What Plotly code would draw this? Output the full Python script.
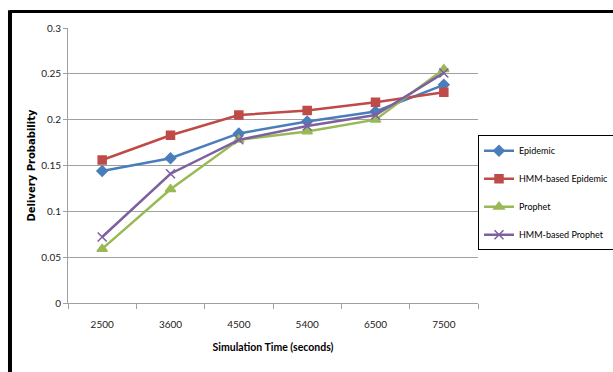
import plotly.graph_objects as go

categories = ["2500", "3600", "4500", "5400", "6500", "7500"]
epidemic = [0.144, 0.158, 0.185, 0.198, 0.209, 0.238]
hmm_epidemic = [0.156, 0.183, 0.205, 0.210, 0.219, 0.230]
prophet = [0.059, 0.124, 0.178, 0.187, 0.200, 0.255]
hmm_prophet = [0.072, 0.141, 0.178, 0.193, 0.205, 0.251]
y_ticks = [0, 0.05, 0.1, 0.15, 0.2, 0.25, 0.3]
y_labels = ["0", "0.05", "0.1", "0.15", "0.2", "0.25", "0.3"]

series = [
    ("Epidemic", epidemic, "#4A7EBB", "diamond", 8),
    ("HMM-based Epidemic", hmm_epidemic, "#BE4B48", "square", 8),
    ("Prophet", prophet, "#98B954", "triangle-up", 9),
    ("HMM-based Prophet", hmm_prophet, "#7D60A0", "x-thin", 9),
]

fig = go.Figure()
for i, (name, vals, col, sym, size) in enumerate(series):
    fig.add_trace(go.Scatter(
        x=categories, y=vals, name=name, mode="lines+markers",
        legendgroup=f"g{i}",
        line=dict(color=col, width=2.5),
        marker=dict(symbol=sym, size=size, color=col,
                    line=dict(color=col, width=1.5)),
    ))

font = "Lato, sans-serif"
fig.update_layout(
    width=613, height=372,
    margin=dict(l=68, r=135, t=28, b=69, autoexpand=False),
    paper_bgcolor="white", plot_bgcolor="white",
    font=dict(family=font, size=10, color="#222"),
    showlegend=True,
    legend=dict(
        x=1.0, y=0.61, xanchor="left", yanchor="top",
        bordercolor="black", borderwidth=1, bgcolor="white",
        font=dict(family=font, size=9, color="#000"),
        tracegroupgap=9, itemwidth=30,
    ),
    xaxis=dict(
        type="category", showgrid=False, showline=True, linecolor="#a0a0a0",
        ticks="outside", tickson="boundaries", ticklen=5, tickcolor="#a0a0a0",
        ticklabelstandoff=12,
        title=dict(text="<b>Simulation Time (seconds)</b>", font=dict(family=font, size=10.5, color="#000"), standoff=14),
        tickfont=dict(family=font, size=10, color="#222"),
        range=[-0.5, 5.5], automargin=False,
    ),
    yaxis=dict(
        range=[0, 0.3], tickvals=y_ticks, ticktext=y_labels,
        showgrid=True, gridcolor="#a0a0a0", gridwidth=1,
        showline=True, linecolor="#a0a0a0", zeroline=False,
        ticks="outside", ticklen=4, tickcolor="#a0a0a0",
        title=dict(text="<b>Delivery Probability</b>", font=dict(family="DejaVu Sans, sans-serif", size=10, color="#000"), standoff=3),
        tickfont=dict(family=font, size=10, color="#222"),
        automargin=False,
    ),
    shapes=[
        dict(type="line", xref="paper", yref="paper", x0=-0.1415, x1=1.6, y0=1.06, y1=1.06,
             line=dict(color="black", width=3)),
        dict(type="line", xref="paper", yref="paper", x0=-0.1415, x1=-0.1415, y0=1.065, y1=-0.3,
             line=dict(color="black", width=4)),
    ],
)

fig.write_html("out.html")
